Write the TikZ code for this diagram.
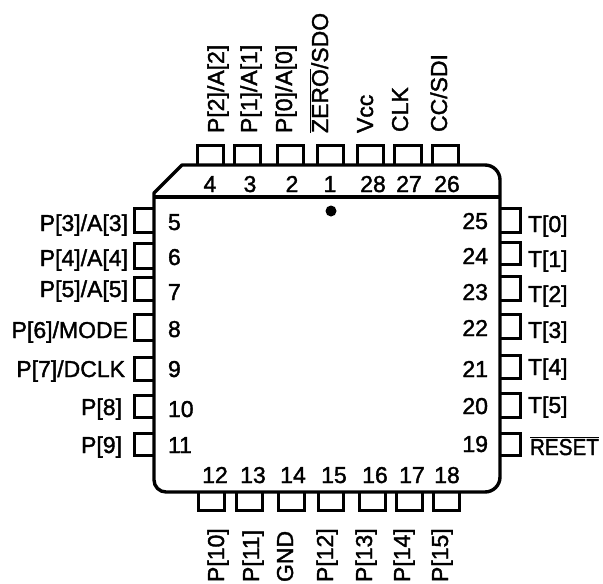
\documentclass[tikz,border=0pt]{standalone}
\usepackage{fontspec}
\setmainfont{Liberation Sans}[FakeBold=1.6]
\newcommand{\ovl}[1]{$\overline{\hbox{#1}}$}
\tikzset{
  lab/.style={inner sep=0pt,outer sep=0pt,text=black,font=\fontsize{23}{23}\selectfont},
  num/.style={inner sep=0pt,outer sep=0pt,text=black,font=\fontsize{23}{23}\selectfont},
  up/.style={lab,rotate=90,anchor=base west},
  lft/.style={lab,anchor=base east},
  rgt/.style={lab,anchor=base west},
  pinbox/.style={draw=black,line width=3pt,line join=miter},
  body/.style={draw=black,line width=3.4pt,line join=round},
}
\begin{document}
\begin{tikzpicture}[x=1pt,y=-1pt]
\useasboundingbox (0,0) rectangle (603,584);
% top pins
\foreach \a/\b in {197/223,234/260,277/303,317/343,357/383,394/421,432/458}
  \draw[pinbox] (\a,165) -- (\a,145) -- (\b,145) -- (\b,165);
% bottom pins
\foreach \a/\b in {198/224,236/262,278/304,318/343,359/385,396/422,433/459}
  \draw[pinbox] (\a,491) -- (\a,510) -- (\b,510) -- (\b,491);
% left pins
\foreach \a/\b in {208/232,243/268,277/300,314/340,357/380,395/417,433/455}
  \draw[pinbox] (154,\a) -- (134,\a) -- (134,\b) -- (154,\b);
% right pins
\foreach \a/\b in {208/232,242/264,276/300,314/338,355/378,393/417,433/455}
  \draw[pinbox] (499,\a) -- (520,\a) -- (520,\b) -- (499,\b);
% package
\draw[body] (154,193) -- (182,165) -- (485,165)
  arc[start angle=-90,end angle=0,radius=15] -- (500,477)
  arc[start angle=0,end angle=90,radius=15] -- (166,492)
  arc[start angle=90,end angle=180,radius=12] -- cycle;
\draw[body] (154,197) -- (500,197);
\fill[black] (331,211) circle[radius=5.5];
% top labels
\node[up] (l4) at (224,133) {P[2]/A[2]};
\node[up] (l3) at (257,133) {P[1]/A[1]};
\node[up] (l2) at (292,133) {P[0]/A[0]};
\node[up] (l1) at (328,133) {\ovl{ZERO}/SDO};
\node[up] (l28) at (373,133) {Vcc};
\node[up] (l27) at (408,132) {CLK};
\node[up] (l26) at (447,132) {CC/SDI};
% bottom labels
\node[up] (l12) at (224,582) {P[10]};
\node[up] (l13) at (259,582) {P[11]};
\node[up] (l14) at (293,582) {GND};
\node[up] (l15) at (333,582) {P[12]};
\node[up] (l16) at (372,582) {P[13]};
\node[up] (l17) at (410,582) {P[14]};
\node[up] (l18) at (448,582) {P[15]};
% left labels
\node[lft] (l5) at (128,231) {P[3]/A[3]};
\node[lft] (l6) at (128,266) {P[4]/A[4]};
\node[lft] (l7) at (128,297) {P[5]/A[5]};
\node[lft] (l8) at (128,338) {P[6]/MODE};
\node[lft] (l9) at (125,377) {P[7]/DCLK};
\node[lft] (l10) at (122,415) {P[8]};
\node[lft] (l11) at (122,453) {P[9]};
% right labels
\node[rgt] (l25) at (528,232) {T[0]};
\node[rgt] (l24) at (528,267) {T[1]};
\node[rgt] (l23) at (528,302) {T[2]};
\node[rgt] (l22) at (528,338) {T[3]};
\node[rgt] (l21) at (528,375) {T[4]};
\node[rgt] (l20) at (528,413) {T[5]};
\node[rgt,xscale=.9] (l19) at (530,455) {\ovl{RESET}};
% pin numbers, top
\foreach \n/\x in {4/210,3/250,2/292,1/330,28/373,27/409,26/447}
  \node[num,anchor=base] (n\n) at (\x,192) {\n};
% pin numbers, bottom
\foreach \n/\x in {12/215,13/253,14/293,15/334,16/375,17/412,18/447}
  \node[num,anchor=base] (n\n) at (\x,483) {\n};
% pin numbers, left
\foreach \n/\y in {5/230,6/265,7/300,8/337,9/377,10/417,11/453}
  \node[num,anchor=base west] (n\n) at (168,\y) {\n};
% pin numbers, right
\foreach \n/\y in {25/229,24/264,23/300,22/336,21/377,20/414,19/452}
  \node[num,anchor=base east] (n\n) at (488,\y) {\n};
\end{tikzpicture}
\end{document}
